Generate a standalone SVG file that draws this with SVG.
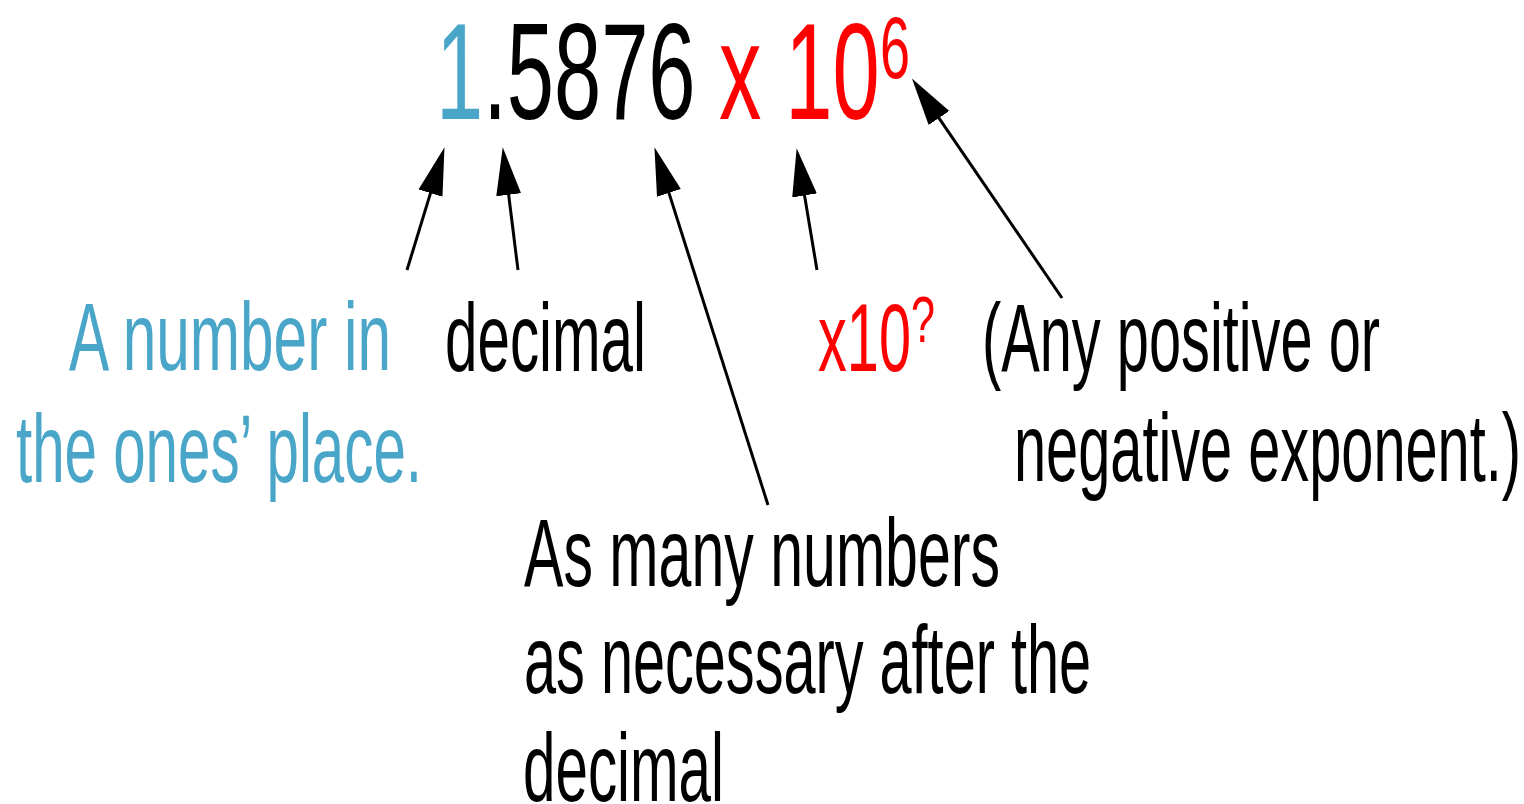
<svg xmlns="http://www.w3.org/2000/svg" width="1524" height="804" viewBox="0 0 1524 804">
<style>
text{font-family:"Liberation Sans",Arial,sans-serif}
.lbl{font-size:96px}
.ttl{font-size:138px}
.blue{fill:#4aa6c9}
.blk{fill:#000}
.red{fill:#ff0000}
.conn line{stroke:#000;stroke-width:3;fill:none}
</style>
<defs>
<marker id="ah" markerUnits="userSpaceOnUse" markerWidth="50" markerHeight="30" viewBox="0 -13 48 26" refX="2" refY="0" orient="auto">
<path d="M0,-12 L46,0 L0,12 Z" fill="#000"/>
</marker>
</defs>
<rect width="1524" height="804" fill="#fff"/>
<g id="title">
<text class="ttl blue" x="436" y="119" textLength="47.2" lengthAdjust="spacingAndGlyphs">1</text>
<text class="ttl blk" x="483.2" y="119" textLength="212.3" lengthAdjust="spacingAndGlyphs">.5876</text>
<text class="ttl red" x="719.1" y="119" textLength="42.4" lengthAdjust="spacingAndGlyphs">x</text>
<text class="ttl red" x="785.2" y="119" textLength="94.4" lengthAdjust="spacingAndGlyphs">10</text>
<text class="red" x="880" y="78" font-size="88" textLength="30" lengthAdjust="spacingAndGlyphs">6</text>
</g>
<g id="ones">
<text class="lbl blue" x="69" y="370" textLength="322" lengthAdjust="spacingAndGlyphs">A number in</text>
<text class="lbl blue" x="16" y="482" textLength="406" lengthAdjust="spacingAndGlyphs">the ones’ place.</text>
</g>
<g id="decimal">
<text class="lbl blk" x="445" y="371" textLength="201" lengthAdjust="spacingAndGlyphs">decimal</text>
</g>
<g id="x10">
<text class="lbl red" x="818" y="371" textLength="93" lengthAdjust="spacingAndGlyphs">x10</text>
<text class="red" x="911" y="342" font-size="64" textLength="24" lengthAdjust="spacingAndGlyphs">?</text>
</g>
<g id="exponent">
<text class="lbl blk" x="982" y="371" textLength="398" lengthAdjust="spacingAndGlyphs">(Any positive or</text>
<text class="lbl blk" x="1014" y="481" textLength="507" lengthAdjust="spacingAndGlyphs">negative exponent.)</text>
</g>
<g id="digits">
<text class="lbl blk" x="524" y="586" textLength="476" lengthAdjust="spacingAndGlyphs">As many numbers</text>
<text class="lbl blk" x="524" y="693" textLength="567" lengthAdjust="spacingAndGlyphs">as necessary after the</text>
<text class="lbl blk" x="523" y="801" textLength="201" lengthAdjust="spacingAndGlyphs">decimal</text>
</g>
<g id="connectors" class="conn">
<line x1="407" y1="270" x2="431.1" y2="191.1" marker-end="url(#ah)"/>
<line x1="518" y1="270" x2="508.4" y2="192.7" marker-end="url(#ah)"/>
<line x1="768" y1="505" x2="668.3" y2="190.9" marker-end="url(#ah)"/>
<line x1="817" y1="270" x2="804.2" y2="193.4" marker-end="url(#ah)"/>
<line x1="1062" y1="298" x2="937.8" y2="116.3" marker-end="url(#ah)"/>
</g>
</svg>
